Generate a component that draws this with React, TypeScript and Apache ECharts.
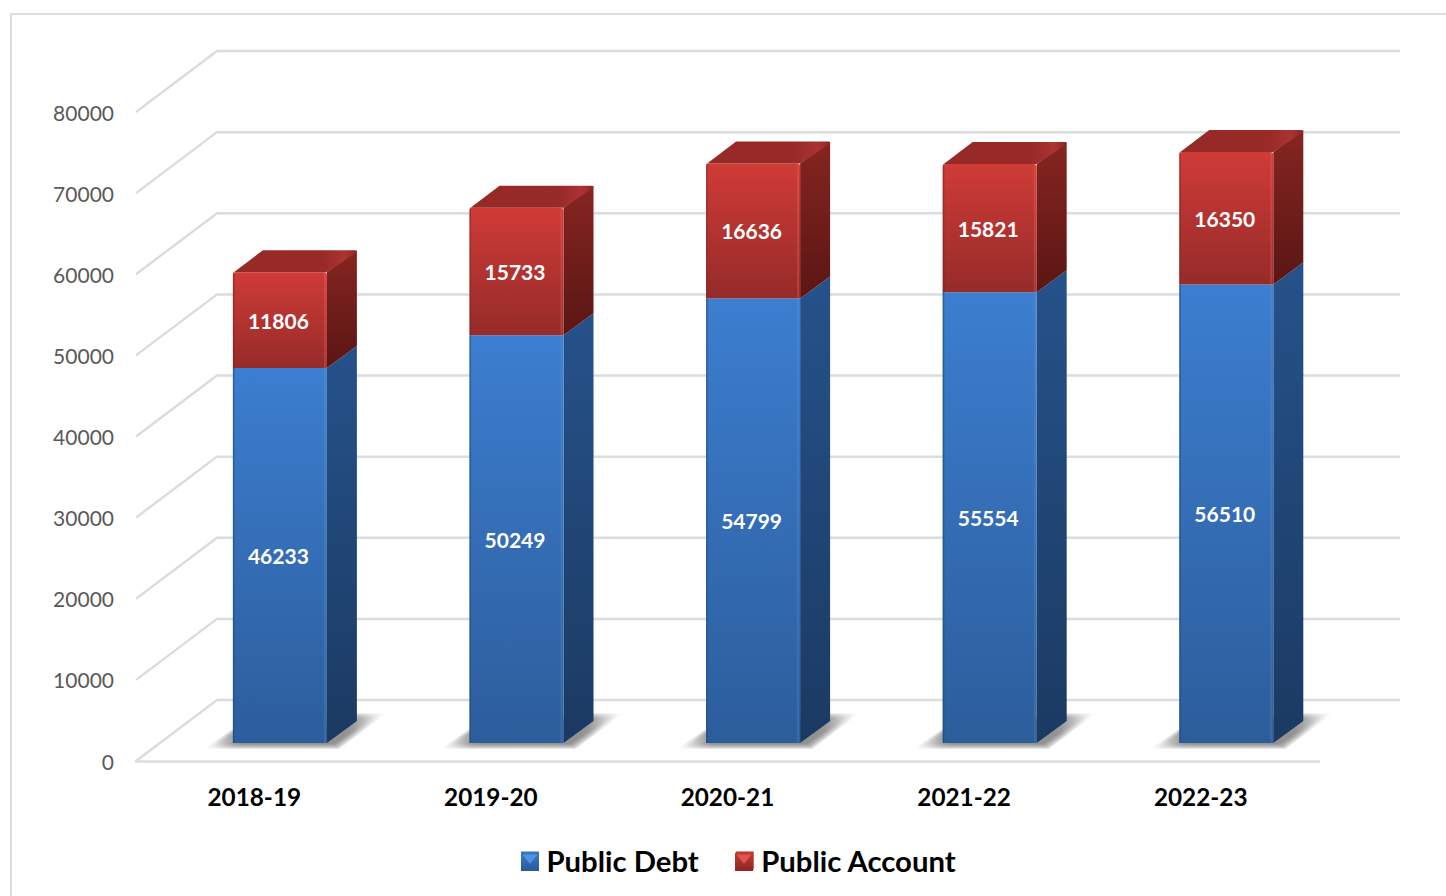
import React, { useEffect, useRef } from "react";
import * as echarts from "echarts";

const categories = ["2018-19", "2019-20", "2020-21", "2021-22", "2022-23"];
const publicDebt = [46233, 50249, 54799, 55554, 56510];
const publicAccount = [11806, 15733, 16636, 15821, 16350];
const wallTicks = [0, 10000, 20000, 30000, 40000, 50000, 60000, 70000, 80000];

const FONT = "Lato, 'Open Sans', sans-serif";
const GRID_LINE = "#dcdcdc";

// Offsets that fake the perspective of the 3D chart box.
const WALL_DX = 81;
const WALL_DY = -61;
const BAR_WIDTH = 94;
const BAR_SHIFT = 25.6;
const BAR_LIFT = -18;
const SIDE_DX = 30;
const SIDE_DY = -22;
const SHADOW_LAYERS = [0, 1, 2, 3, 4, 5];

const vgrad = (stops: [number, string][]) =>
  new echarts.graphic.LinearGradient(0, 0, 0, 1, stops.map(([offset, color]) => ({ offset, color })));
const hgrad = (stops: [number, string][]) =>
  new echarts.graphic.LinearGradient(0, 0, 1, 0, stops.map(([offset, color]) => ({ offset, color })));

const poly = (points: number[][], fill: any, extra: any = {}) => ({
  type: "polygon",
  shape: { points },
  style: { fill, ...extra },
  silent: true,
});

const renderWall = (params: any, api: any) => {
  const y = api.coord([0, api.value(1)])[1];
  const x0 = params.coordSys.x;
  const x1 = x0 + params.coordSys.width;
  return {
    type: "polyline",
    shape: { points: [[x0, y], [x0 + WALL_DX, y + WALL_DY], [x1 + WALL_DX, y + WALL_DY]] },
    style: { stroke: GRID_LINE, lineWidth: 2.5, fill: "none" },
    silent: true,
  };
};

// Soft floor shadow: stacked translucent outlines, each a little further in.
const renderShadow = (_params: any, api: any) => {
  const p = api.coord([api.value(0), 0]);
  const x0 = p[0] + BAR_SHIFT - BAR_WIDTH / 2;
  const x1 = x0 + BAR_WIDTH;
  const y = p[1] + BAR_LIFT;
  const tint = "rgba(80,80,80,0.15)";
  const clear = "rgba(80,80,80,0)";
  return {
    type: "group",
    children: SHADOW_LAYERS.map((d) =>
      poly(
        [
          [x0 - 30 + 3 * d, y + 6 - d],
          [x0, y - 14 + d],
          [x1 + SIDE_DX, y + SIDE_DY - 8 + d],
          [x1 + 60 - 3 * d, y - 30 + d],
          [x1 + 12 - d, y + 6 - d],
        ],
        hgrad([[0, clear], [0.17, tint], [0.82, tint], [1, clear]]),
      ),
    ),
  };
};

// One stacked block: front, right side and (for the last stack) the top face.
const renderBlock = (palette: any, withTop: boolean) => (_params: any, api: any) => {
  const low = api.value(1);
  const high = api.value(2);
  const pLow = api.coord([api.value(0), low]);
  const pHigh = api.coord([api.value(0), high]);
  const x0 = pLow[0] + BAR_SHIFT - BAR_WIDTH / 2;
  const x1 = x0 + BAR_WIDTH;
  const yLow = pLow[1] + BAR_LIFT;
  const yHigh = pHigh[1] + BAR_LIFT;
  const children: any[] = [
    poly(
      [[x1, yLow], [x1, yHigh], [x1 + SIDE_DX, yHigh + SIDE_DY], [x1 + SIDE_DX, yLow + SIDE_DY]],
      vgrad(palette.side),
    ),
    {
      type: "rect",
      shape: { x: x0, y: yHigh, width: BAR_WIDTH, height: yLow - yHigh, r: withTop ? [3, 3, 0, 0] : 0 },
      style: { fill: vgrad(palette.front) },
      silent: true,
    },
    {
      type: "rect",
      shape: { x: x0, y: yHigh, width: 1.5, height: yLow - yHigh },
      style: { fill: palette.edgeLeft },
      silent: true,
    },
    {
      type: "rect",
      shape: { x: x1 - 3, y: yHigh, width: 2, height: yLow - yHigh },
      style: { fill: palette.edgeRight },
      silent: true,
    },
  ];
  if (withTop) {
    children.push(
      poly(
        [[x0 + 1, yHigh], [x0 + SIDE_DX, yHigh + SIDE_DY], [x1 + SIDE_DX - 1, yHigh + SIDE_DY], [x1 + SIDE_DX, yHigh + SIDE_DY + 2], [x1, yHigh]],
        hgrad(palette.top),
      ),
    );
  }
  children.push({
    type: "text",
    style: {
      text: String(high - low),
      x: x0 + BAR_WIDTH / 2 - 1.5,
      y: (yLow + yHigh) / 2,
      fill: "#ffffff",
      fontFamily: FONT,
      fontSize: 21,
      fontWeight: 700,
      align: "center",
      verticalAlign: "middle",
    },
    silent: true,
  });
  return { type: "group", children };
};

const bluePalette = {
  front: [[0, "#3c7ed0"], [1, "#2c5d9b"]],
  side: [[0, "#26528a"], [1, "#1b3a62"]],
  edgeLeft: "rgba(30,70,120,0.55)",
  edgeRight: "rgba(120,170,230,0.18)",
};
const redPalette = {
  front: [[0, "#d03b37"], [1, "#952b29"]],
  side: [[0, "#862521"], [1, "#5a1614"]],
  top: [[0, "#962a27"], [0.72, "#982a28"], [0.9, "#ab3431"], [1, "#8e2724"]],
  edgeLeft: "rgba(120,30,30,0.45)",
  edgeRight: "rgba(255,120,110,0.25)",
};

// Bevelled facets laid over the two legend swatches.
const swatch = (x: number, y: number, s: number, body: [number, string][], light: string) => [
  { type: "rect", z: 20, silent: true, shape: { x, y, width: s, height: s }, style: { fill: vgrad(body) } },
  {
    type: "polygon",
    z: 21,
    silent: true,
    shape: { points: [[x + 1.5, y + 1.5], [x + s - 1.5, y + 1.5], [x + s / 2, y + s * 0.6]] },
    style: { fill: light },
  },
];

export default function App() {
  const ref = useRef<HTMLDivElement>(null);

  useEffect(() => {
    const chart = echarts.init(ref.current!, undefined, { renderer: "svg" });
    const debtRows = categories.map((_, i) => [i, 0, publicDebt[i]]);
    const accountRows = categories.map((_, i) => [i, publicDebt[i], publicDebt[i] + publicAccount[i]]);
    chart.setOption({
      animation: false,
      backgroundColor: "#ffffff",
      grid: { left: 136, top: 112, width: 1183, height: 649, containLabel: false },
      graphic: [
        {
          type: "polyline",
          silent: true,
          shape: { points: [[11, 896], [11, 14], [1446, 14]] },
          style: { stroke: "#dedede", lineWidth: 2, fill: "none" },
        },
        ...swatch(521, 853, 18, [[0, "#3a78c4"], [1, "#2a5a97"]], "#4d95de"),
        ...swatch(735, 853, 18, [[0, "#c23a36"], [1, "#8c2624"]], "#e0544e"),
      ],
      legend: {
        data: ["Public Debt", "Public Account"],
        left: 521,
        top: 846,
        padding: 0,
        icon: "rect",
        itemWidth: 18,
        itemHeight: 18,
        itemGap: 37,
        textStyle: { fontFamily: FONT, fontSize: 29.3, fontWeight: 700, color: "#000000", padding: [0, 0, 0, 2.5] },
      },
      xAxis: {
        type: "category",
        data: categories,
        axisLine: { show: true, lineStyle: { color: GRID_LINE, width: 2.5 } },
        axisTick: { show: false },
        axisLabel: { fontFamily: FONT, fontSize: 24.3, fontWeight: 700, color: "#000000", margin: 23 },
      },
      yAxis: {
        type: "value",
        min: 0,
        max: 80000,
        interval: 10000,
        axisLine: { show: false },
        axisTick: { show: false },
        splitLine: { show: false },
        axisLabel: {
          fontFamily: FONT,
          fontSize: 21,
          color: "#595959",
          margin: 22,
          formatter: (v: number) => String(v),
        },
      },
      series: [
        {
          type: "custom",
          name: "walls",
          z: 1,
          data: wallTicks.map((t) => [0, t]),
          renderItem: renderWall,
          encode: { x: 0, y: 1 },
        },
        {
          type: "custom",
          name: "shadows",
          z: 2,
          data: categories.map((_, i) => [i, 0]),
          renderItem: renderShadow,
          encode: { x: 0, y: 1 },
        },
        {
          type: "custom",
          name: "Public Debt",
          z: 3,
          itemStyle: { color: "#3573bf" },
          data: debtRows,
          renderItem: renderBlock(bluePalette, false),
          encode: { x: 0, y: [1, 2] },
        },
        {
          type: "custom",
          name: "Public Account",
          z: 4,
          itemStyle: { color: "#bf3431" },
          data: accountRows,
          renderItem: renderBlock(redPalette, true),
          encode: { x: 0, y: [1, 2] },
        },
      ],
    });
    return () => chart.dispose();
  }, []);

  return <div ref={ref} style={{ position: "absolute", left: 0, top: 0, width: 1446, height: 896 }} />;
}
